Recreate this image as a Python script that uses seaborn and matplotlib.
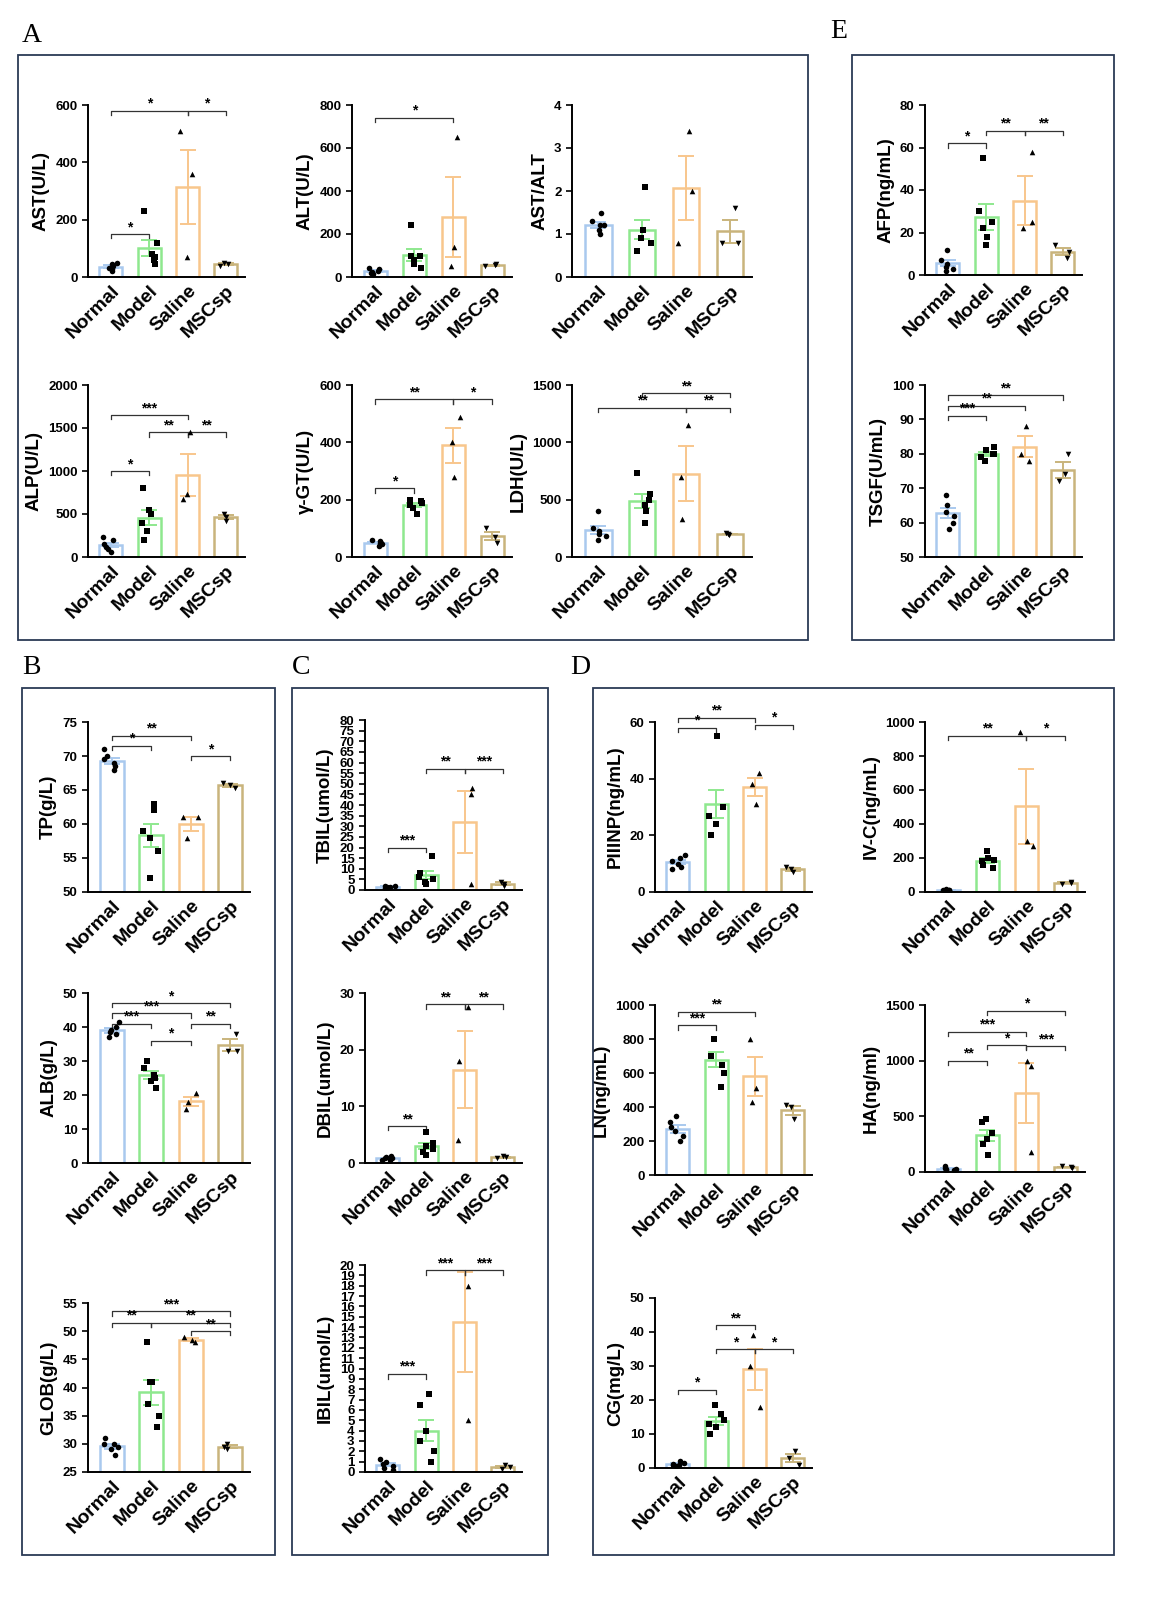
import numpy as np
import pandas as pd
import matplotlib
matplotlib.use("Agg")
import matplotlib.pyplot as plt
import seaborn as sns
from matplotlib.patches import Rectangle

groups = ["Normal", "Model", "Saline", "MSCsp"]
colors = ["#a9c9ee", "#8ee88e", "#f8c68c", "#c9b47c"]
markers = ["o", "s", "^", "v"]

AST = [[22, 28, 32, 38, 45, 50], [45, 60, 70, 80, 120, 230], [70, 360, 510], [40, 45, 50]]
ALT = [[15, 20, 25, 30, 35, 40], [40, 60, 80, 100, 100, 240], [50, 140, 650], [50, 55, 60]]
ASTALT = [[1.0, 1.1, 1.2, 1.2, 1.3, 1.5], [0.6, 0.8, 0.9, 1.1, 1.1, 2.1], [0.8, 2.0, 3.4], [0.8, 0.8, 1.6]]
ALP = [[60, 90, 120, 150, 200, 230], [200, 300, 400, 500, 550, 800], [730, 680, 1450], [420, 460, 500]]
GGT = [[40, 45, 50, 50, 55, 60], [150, 170, 180, 190, 195, 200], [280, 400, 490], [50, 70, 100]]
LDH = [[150, 180, 200, 230, 250, 400], [300, 400, 450, 500, 550, 730], [330, 700, 1150], [195, 200, 205]]
AFP = [[2, 3, 4, 5, 7, 12], [14, 18, 22, 25, 30, 55], [25, 22, 58], [8, 11, 14]]
TSGF = [[58, 60, 62, 63, 65, 68], [78, 79, 80, 80, 81, 82], [78, 80, 88], [72, 74, 80]]
TP = [[68, 68.5, 69, 69.5, 70, 71], [52, 56, 58, 59, 62, 63], [58, 61, 61], [65.3, 65.7, 66]]
ALB = [[37, 38, 38.5, 39, 40, 41.5], [22, 24, 25, 26, 28, 30], [16, 18, 20.5], [33, 33, 38]]
GLOB = [[28, 29, 29.5, 30, 30, 31], [33, 35, 37, 41, 41, 48], [48, 48.5, 49], [29, 29.5, 30]]
TBIL = [[1, 1, 1.5, 1.5, 2, 2], [3, 4, 5, 6, 8, 16], [3, 45, 48], [2, 3, 4]]
DBIL = [[0.5, 0.6, 0.8, 0.8, 1, 1.2], [1.5, 2, 2.5, 3, 3.5, 5.5], [4, 18, 27.5], [0.8, 1, 1.2]]
IBIL = [[0.2, 0.4, 0.6, 0.8, 1, 1.3], [1, 2, 3, 4, 6.5, 7.5], [5, 18, 20.5], [0.3, 0.5, 0.7]]
PIIINP = [[8, 9, 10, 11, 12, 13], [20, 24, 27, 30, 30, 55], [31, 38, 42], [7, 8, 9]]
IVC = [[5, 8, 10, 10, 12, 15], [140, 160, 180, 190, 200, 240], [270, 300, 940], [50, 55, 60]]
LN = [[200, 230, 260, 280, 310, 350], [520, 600, 650, 700, 800, 800], [430, 510, 800], [330, 400, 410]]
HA = [[15, 20, 25, 30, 40, 50], [150, 250, 300, 350, 450, 480], [180, 950, 1000], [40, 45, 50]]
CG = [[0.5, 1, 1, 1.2, 1.5, 2], [10, 12, 13, 14, 16, 18.5], [18, 30, 39], [1, 3, 5]]

plt.rcParams['font.family'] = ['Liberation Sans', 'DejaVu Sans']
W, H = 1159, 1600
fig = plt.figure(figsize=(W / 100, H / 100), dpi=100)


def axes_px(l, t, r, b):
    return fig.add_axes([l / W, 1 - b / H, (r - l) / W, (b - t) / H])


def bracket(ax, i, j, y, txt, span):
    d = span * 0.025
    ax.plot([i, i, j, j], [y - d, y, y, y - d], color="#333333", lw=0.9, clip_on=False)
    ax.text((i + j) / 2, y, txt, ha="center", va="bottom", fontsize=10, fontweight="bold")


def panel(rect, data, ylabel, ylim, ticks, brackets):
    ax = axes_px(*rect)
    df = pd.DataFrame({"g": sum([[g] * len(v) for g, v in zip(groups, data)], []),
                       "v": sum(data, [])})
    sns.barplot(data=df, x="g", y="v", hue="g", order=groups, hue_order=groups,
                palette=colors, fill=False, errorbar=None, width=0.6, linewidth=1.8,
                legend=False, ax=ax)
    for k, v in enumerate(data):
        m = np.mean(v)
        se = np.std(v, ddof=1) / np.sqrt(len(v))
        ax.errorbar(k, m, yerr=se, color=colors[k], capsize=6, lw=1.4, capthick=1.4)
    for k, g in enumerate(groups):
        sns.stripplot(data=df[df.g == g], x="g", y="v", order=groups, marker=markers[k],
                      color="black", size=4, jitter=0.2, ax=ax, zorder=5)
    span = ylim[1] - ylim[0]
    for i, j, y, t in brackets:
        bracket(ax, i, j, y, t, span)
    ax.set_ylim(*ylim)
    ax.set_yticks(ticks)
    ax.set_xlim(-0.6, 3.5)
    ax.set_xlabel("")
    ax.set_ylabel(ylabel, fontsize=13.5, fontweight="bold")
    ax.set_xticks(range(4))
    ax.set_xticklabels(groups, rotation=45, ha="right", rotation_mode="anchor",
                       fontsize=14, fontweight="bold")
    for lab in ax.get_yticklabels():
        lab.set_fontweight("bold")
        lab.set_fontsize(9.5)
    for s in ["top", "right"]:
        ax.spines[s].set_visible(False)
    for s in ["left", "bottom"]:
        ax.spines[s].set_linewidth(1.4)
    ax.tick_params(axis="x", length=0, pad=4)
    ax.tick_params(axis="y", width=1.2, length=4)
    return ax


panel((88, 105, 245, 277), AST, "AST(U/L)", (0, 600), [0, 200, 400, 600],
      [(0, 1, 150, "*"), (0, 2, 580, "*"), (2, 3, 580, "*")])
panel((352, 105, 512, 277), ALT, "ALT(U/L)", (0, 800), [0, 200, 400, 600, 800],
      [(0, 2, 740, "*")])
panel((572, 105, 752, 277), ASTALT, "AST/ALT", (0, 4), [0, 1, 2, 3, 4], [])
panel((88, 385, 245, 557), ALP, "ALP(U/L)", (0, 2000), [0, 500, 1000, 1500, 2000],
      [(0, 1, 1000, "*"), (0, 2, 1650, "***"), (1, 2, 1450, "**"), (2, 3, 1450, "**")])
panel((352, 385, 512, 557), GGT, "γ-GT(U/L)", (0, 600), [0, 200, 400, 600],
      [(0, 1, 240, "*"), (0, 2, 550, "**"), (2, 3, 550, "*")])
panel((572, 385, 752, 557), LDH, "LDH(U/L)", (0, 1500), [0, 500, 1000, 1500],
      [(0, 2, 1300, "**"), (1, 3, 1430, "**"), (2, 3, 1300, "**")])
panel((925, 105, 1082, 275), AFP, "AFP(ng/mL)", (0, 80), [0, 20, 40, 60, 80],
      [(0, 1, 62, "*"), (1, 2, 68, "**"), (2, 3, 68, "**")])
panel((925, 385, 1082, 557), TSGF, "TSGF(U/mL)", (50, 100), [50, 60, 70, 80, 90, 100],
      [(0, 1, 91, "***"), (0, 2, 94, "**"), (0, 3, 97, "**")])
panel((88, 722, 250, 892), TP, "TP(g/L)", (50, 75), [50, 55, 60, 65, 70, 75],
      [(0, 1, 71.5, "*"), (0, 2, 73, "**"), (2, 3, 70, "*")])
panel((88, 993, 250, 1163), ALB, "ALB(g/L)", (0, 50), [0, 10, 20, 30, 40, 50],
      [(0, 1, 41, "***"), (0, 2, 44, "***"), (0, 3, 47, "*"), (1, 2, 36, "*"), (2, 3, 41, "**")])
panel((88, 1303, 250, 1472), GLOB, "GLOB(g/L)", (25, 55), [25, 30, 35, 40, 45, 50, 55],
      [(0, 1, 51.5, "**"), (0, 3, 53.5, "***"), (1, 3, 51.5, "**"), (2, 3, 50, "**")])
panel((365, 720, 522, 890), TBIL, "TBIL(umol/L)", (0, 80), list(range(0, 81, 5)),
      [(0, 1, 20, "***"), (1, 2, 57, "**"), (2, 3, 57, "***")])
panel((365, 993, 522, 1163), DBIL, "DBIL(umol/L)", (0, 30), [0, 10, 20, 30],
      [(0, 1, 6.5, "**"), (1, 2, 28, "**"), (2, 3, 28, "**")])
panel((365, 1265, 522, 1472), IBIL, "IBIL(umol/L)", (0, 20), list(range(0, 21)),
      [(0, 1, 9.5, "***"), (1, 2, 19.5, "***"), (2, 3, 19.5, "***")])
panel((655, 722, 812, 892), PIIINP, "PIIINP(ng/mL)", (0, 60), [0, 20, 40, 60],
      [(0, 1, 58, "*"), (0, 2, 61.5, "**"), (2, 3, 59, "*")])
panel((925, 722, 1085, 892), IVC, "IV-C(ng/mL)", (0, 1000), [0, 200, 400, 600, 800, 1000],
      [(0, 2, 920, "**"), (2, 3, 920, "*")])
panel((655, 1005, 812, 1175), LN, "LN(ng/mL)", (0, 1000), [0, 200, 400, 600, 800, 1000],
      [(0, 1, 880, "***"), (0, 2, 960, "**")])
panel((925, 1005, 1085, 1172), HA, "HA(ng/ml)", (0, 1500), [0, 500, 1000, 1500],
      [(0, 1, 1000, "**"), (0, 2, 1260, "***"), (1, 2, 1140, "*"), (1, 3, 1450, "*"), (2, 3, 1130, "***")])
panel((655, 1298, 812, 1468), CG, "CG(mg/L)", (0, 50), [0, 10, 20, 30, 40, 50],
      [(0, 1, 23, "*"), (1, 2, 35, "*"), (1, 2, 42, "**"), (2, 3, 35, "*")])

for l, t, r, b in [(18, 55, 808, 640), (852, 55, 1114, 640), (22, 688, 275, 1555),
                   (292, 688, 548, 1555), (593, 688, 1114, 1555)]:
    fig.add_artist(Rectangle((l / W, 1 - b / H), (r - l) / W, (b - t) / H, transform=fig.transFigure,
                             fill=False, edgecolor="#2b3a55", lw=1.3))
for txt, x, y in [("A", 22, 35), ("E", 830, 32), ("B", 22, 668), ("C", 292, 668), ("D", 570, 668)]:
    fig.text(x / W, 1 - y / H, txt, fontsize=20, family="Liberation Serif", va="center")

fig.savefig("out.png", dpi=100)
